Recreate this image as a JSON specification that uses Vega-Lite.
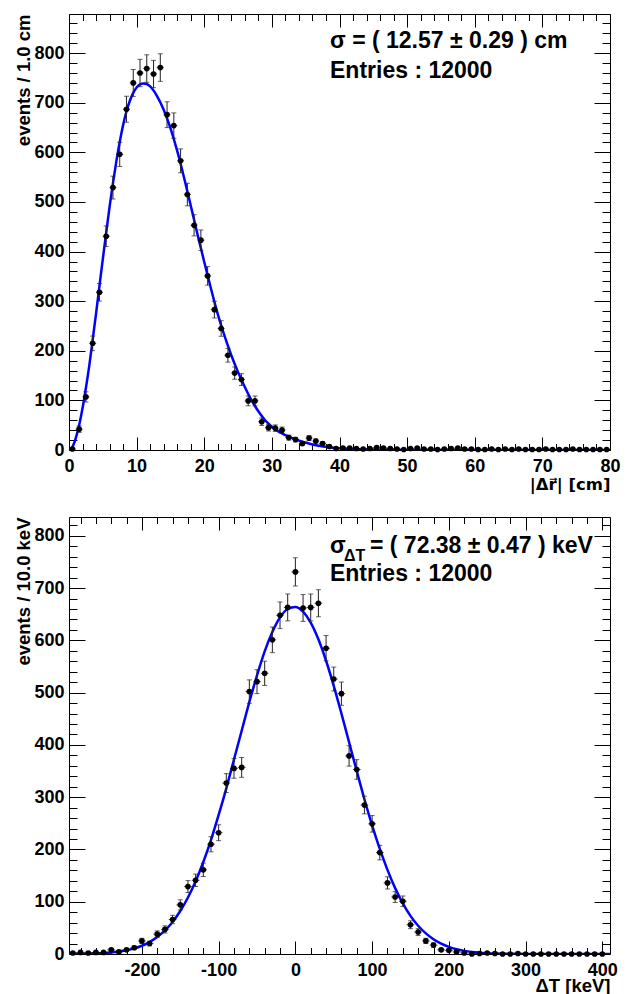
{
  "$schema": "https://vega.github.io/schema/vega-lite/v6.json",
  "padding": {"left": 13, "top": 13, "right": 5, "bottom": 5},
  "spacing": 67,
  "bounds": "flush",
  "config": {
    "font": "Liberation Sans",
    "view": {"stroke": "#000", "strokeWidth": 1},
    "axis": {"grid": false, "domain": false, "labelFont": "Liberation Sans", "labelFontWeight": "bold", "labelFontSize": 18, "labelColor": "#000", "titleFont": "Liberation Sans", "titleFontWeight": "bold", "titleFontSize": 18.5, "titleColor": "#000", "tickColor": "#000", "tickWidth": 1, "labelOverlap": false, "labelFlush": false, "labelBound": false}
  },
  "datasets": {
    "top": [
      {"x":0.5,"n":2,"e":1.4},{"x":1.5,"n":42,"e":6.5},{"x":2.5,"n":107,"e":10.3},{"x":3.5,"n":215,"e":14.7},{"x":4.5,"n":318,"e":17.8},{"x":5.5,"n":431,"e":20.8},{"x":6.5,"n":529,"e":23.0},{"x":7.5,"n":596,"e":24.4},{"x":8.5,"n":687,"e":26.2},{"x":9.5,"n":740,"e":27.2},
      {"x":10.5,"n":760,"e":27.6},{"x":11.5,"n":769,"e":27.7},{"x":12.5,"n":758,"e":27.5},{"x":13.5,"n":771,"e":27.8},{"x":14.5,"n":676,"e":26.0},{"x":15.5,"n":654,"e":25.6},{"x":16.5,"n":583,"e":24.1},{"x":17.5,"n":515,"e":22.7},{"x":18.5,"n":453,"e":21.3},{"x":19.5,"n":423,"e":20.6},
      {"x":20.5,"n":351,"e":18.7},{"x":21.5,"n":283,"e":16.8},{"x":22.5,"n":245,"e":15.7},{"x":23.5,"n":191,"e":13.8},{"x":24.5,"n":155,"e":12.4},{"x":25.5,"n":142,"e":11.9},{"x":26.5,"n":99,"e":9.9},{"x":27.5,"n":99,"e":9.9},{"x":28.5,"n":57,"e":7.5},{"x":29.5,"n":45,"e":6.7},
      {"x":30.5,"n":44,"e":6.6},{"x":31.5,"n":40,"e":6.3},{"x":32.5,"n":25,"e":5.0},{"x":33.5,"n":21,"e":4.6},{"x":34.5,"n":13,"e":3.6},{"x":35.5,"n":24,"e":4.9},{"x":36.5,"n":18,"e":4.2},{"x":37.5,"n":13,"e":3.6},{"x":38.5,"n":7,"e":2.6},{"x":39.5,"n":3,"e":1.7},
      {"x":40.5,"n":4,"e":2},{"x":41.5,"n":4,"e":2},{"x":42.5,"n":3,"e":1.7},{"x":43.5,"n":2,"e":1.4},{"x":44.5,"n":3,"e":1.7},{"x":45.5,"n":5,"e":2.2},{"x":46.5,"n":4,"e":2},{"x":47.5,"n":3,"e":1.7},{"x":48.5,"n":2,"e":1.4},{"x":49.5,"n":1,"e":1},
      {"x":50.5,"n":3,"e":1.7},{"x":51.5,"n":4,"e":2},{"x":52.5,"n":2,"e":1.4},{"x":53.5,"n":2,"e":1.4},{"x":54.5,"n":1,"e":1},{"x":55.5,"n":2,"e":1.4},{"x":56.5,"n":3,"e":1.7},{"x":57.5,"n":4,"e":2},{"x":58.5,"n":2,"e":1.4},{"x":59.5,"n":2,"e":1.4},
      {"x":60.5,"n":1,"e":1},{"x":61.5,"n":1,"e":1},{"x":62.5,"n":2,"e":1.4},{"x":63.5,"n":1,"e":1},{"x":64.5,"n":2,"e":1.4},{"x":65.5,"n":1,"e":1},{"x":66.5,"n":2,"e":1.4},{"x":67.5,"n":1,"e":1},{"x":68.5,"n":1,"e":1},{"x":69.5,"n":1,"e":1},
      {"x":70.5,"n":2,"e":1.4},{"x":71.5,"n":1,"e":1},{"x":72.5,"n":1,"e":1},{"x":73.5,"n":1,"e":1},{"x":74.5,"n":2,"e":1.4},{"x":75.5,"n":1,"e":1},{"x":76.5,"n":1,"e":1},{"x":77.5,"n":1,"e":1},{"x":78.5,"n":1,"e":1},{"x":79.5,"n":1,"e":1}
    ],
    "topfit": [
      {"x":0,"f":0},{"x":0.5,"f":6},{"x":1,"f":24},{"x":1.5,"f":50},{"x":2,"f":84},{"x":2.5,"f":125},{"x":3,"f":170},{"x":3.5,"f":222},{"x":4,"f":275},{"x":4.5,"f":330},{"x":5,"f":385},{"x":5.5,"f":438},{"x":6,"f":490},{"x":6.5,"f":538},{"x":7,"f":582},{"x":7.5,"f":621},{"x":8,"f":655},{"x":8.5,"f":683},{"x":9,"f":704},{"x":9.5,"f":720},{"x":10,"f":731},{"x":10.5,"f":737},{"x":11,"f":739},{"x":11.5,"f":738},{"x":12,"f":733},{"x":13,"f":714},{"x":14,"f":686},{"x":15,"f":649},{"x":16,"f":603},{"x":17,"f":550},{"x":18,"f":493},{"x":19,"f":435},{"x":20,"f":379},{"x":21,"f":325},{"x":22,"f":274},{"x":23,"f":230},{"x":24,"f":191},{"x":25,"f":157},{"x":26,"f":127},{"x":27,"f":100},{"x":28,"f":78},{"x":29,"f":60},{"x":30,"f":47},{"x":31,"f":37},{"x":32,"f":30},{"x":33,"f":24},{"x":34,"f":19},{"x":35,"f":15},{"x":36,"f":11},{"x":37,"f":8.5},{"x":38,"f":6.3},{"x":39,"f":4.6},{"x":40,"f":3.4},{"x":42,"f":1.8},{"x":44,"f":1},{"x":47,"f":0.4},{"x":50,"f":0.2},{"x":55,"f":0},{"x":80,"f":0}
    ],
    "bot": [
      {"x":-290,"n":2,"e":1.4},{"x":-280,"n":3,"e":1.7},{"x":-270,"n":2,"e":1.4},{"x":-260,"n":3,"e":1.7},{"x":-250,"n":3,"e":1.7},{"x":-240,"n":8,"e":2.8},{"x":-230,"n":4,"e":2},{"x":-220,"n":8,"e":2.8},{"x":-210,"n":12,"e":3.5},{"x":-200,"n":25,"e":5},
      {"x":-190,"n":20,"e":4.5},{"x":-180,"n":38,"e":6.2},{"x":-170,"n":47,"e":6.9},{"x":-160,"n":66,"e":8.1},{"x":-150,"n":94,"e":9.7},{"x":-140,"n":129,"e":11.4},{"x":-130,"n":141,"e":11.9},{"x":-120,"n":161,"e":12.7},{"x":-110,"n":210,"e":14.5},{"x":-100,"n":232,"e":15.2},
      {"x":-90,"n":327,"e":18.1},{"x":-80,"n":355,"e":18.8},{"x":-70,"n":357,"e":18.9},{"x":-60,"n":502,"e":22.4},{"x":-50,"n":521,"e":22.8},{"x":-40,"n":537,"e":23.2},{"x":-30,"n":601,"e":24.5},{"x":-20,"n":648,"e":25.5},{"x":-10,"n":663,"e":25.7},{"x":0,"n":731,"e":27},
      {"x":10,"n":662,"e":25.7},{"x":20,"n":663,"e":25.7},{"x":30,"n":671,"e":25.9},{"x":40,"n":585,"e":24.2},{"x":50,"n":526,"e":22.9},{"x":60,"n":498,"e":22.3},{"x":70,"n":379,"e":19.5},{"x":80,"n":353,"e":18.8},{"x":90,"n":285,"e":16.9},{"x":100,"n":249,"e":15.8},
      {"x":110,"n":194,"e":13.9},{"x":120,"n":136,"e":11.7},{"x":130,"n":109,"e":10.4},{"x":140,"n":101,"e":10},{"x":150,"n":56,"e":7.5},{"x":160,"n":42,"e":6.5},{"x":170,"n":25,"e":5},{"x":180,"n":17,"e":4.1},{"x":190,"n":8,"e":2.8},{"x":200,"n":7,"e":2.6},
      {"x":210,"n":4,"e":2},{"x":220,"n":2,"e":1.4},{"x":230,"n":0,"e":0},{"x":240,"n":1,"e":1},{"x":250,"n":2,"e":1.4},{"x":260,"n":1,"e":1},{"x":270,"n":0,"e":0},{"x":280,"n":0,"e":0},{"x":290,"n":1,"e":1},{"x":300,"n":0,"e":0},
      {"x":310,"n":0,"e":0},{"x":320,"n":0,"e":0},{"x":330,"n":0,"e":0},{"x":340,"n":0,"e":0},{"x":350,"n":0,"e":0},{"x":360,"n":0,"e":0},{"x":370,"n":0,"e":0},{"x":380,"n":0,"e":0},{"x":390,"n":0,"e":0},{"x":400,"n":0,"e":0}
    ],
    "botfit": [
      {"x":-295,"f":0.2},{"x":-280,"f":0.4},{"x":-270,"f":0.7},{"x":-260,"f":1.2},{"x":-250,"f":1.9},{"x":-240,"f":3},{"x":-230,"f":4.7},{"x":-220,"f":7.1},{"x":-210,"f":10.7},{"x":-200,"f":15.8},{"x":-190,"f":22.8},{"x":-180,"f":32.3},{"x":-170,"f":45},{"x":-160,"f":61.4},{"x":-150,"f":82.2},{"x":-140,"f":108},{"x":-130,"f":139},{"x":-120,"f":176},{"x":-110,"f":218},{"x":-100,"f":266},{"x":-90,"f":317},{"x":-80,"f":372},{"x":-70,"f":427},{"x":-60,"f":482},{"x":-50,"f":533},{"x":-40,"f":579},{"x":-30,"f":616},{"x":-20,"f":644},{"x":-10,"f":660},{"x":0,"f":664},{"x":10,"f":655},{"x":20,"f":634},{"x":30,"f":602},{"x":40,"f":561},{"x":50,"f":513},{"x":60,"f":460},{"x":70,"f":405},{"x":80,"f":350},{"x":90,"f":296},{"x":100,"f":246},{"x":110,"f":201},{"x":120,"f":161},{"x":130,"f":126},{"x":140,"f":97},{"x":150,"f":73},{"x":160,"f":54},{"x":170,"f":39.5},{"x":180,"f":28.2},{"x":190,"f":19.7},{"x":200,"f":13.5},{"x":210,"f":9.1},{"x":220,"f":6},{"x":230,"f":3.9},{"x":240,"f":2.5},{"x":250,"f":1.6},{"x":260,"f":1},{"x":280,"f":0.3},{"x":300,"f":0.1},{"x":410,"f":0}
    ]
  },
  "vconcat": [
    {
      "width": 541,
      "height": 436,
      "resolve": {"axis": {"x": "independent", "y": "independent"}},
      "layer": [
        {
          "data": {"name": "topfit"},
          "mark": {"type": "line", "color": "#0000ff", "strokeWidth": 2.5, "interpolate": "monotone", "clip": true},
          "encoding": {
            "x": {"field": "x", "type": "quantitative", "scale": {"domain": [0, 80], "nice": false, "zero": false},
              "axis": {"orient": "bottom", "title": "|Δr⃗| [cm]", "titleFont": "DejaVu Sans", "titleFontSize": 16.5, "values": [0,10,20,30,40,50,60,70,80], "ticks": false, "labelPadding": 7, "labelExpr": "'' + datum.value", "titleAnchor": "end", "titleAlign": "right", "titleX": 541, "titleY": 39, "titleBaseline": "alphabetic"}},
            "y": {"field": "f", "type": "quantitative", "scale": {"domain": [0, 879], "nice": false, "zero": false},
              "axis": {"orient": "left", "title": "events / 1.0 cm", "values": [0,100,200,300,400,500,600,700,800], "ticks": false, "labelPadding": 5, "titleAngle": -90, "titleAnchor": "end", "titleAlign": "right", "titleX": -40, "titleY": 0, "titleBaseline": "alphabetic"}}
          }
        },
        {
          "data": {"name": "top"},
          "mark": {"type": "tick", "orient": "horizontal", "size": 7, "thickness": 1, "color": "#000"},
          "encoding": {
            "x": {"field": "x", "type": "quantitative", "scale": {"domain": [0, 80], "nice": false, "zero": false},
              "axis": {"orient": "bottom", "title": null, "labels": false, "values": [0,10,20,30,40,50,60,70,80], "tickSize": -13}},
            "y": {"field": "n", "type": "quantitative", "scale": {"domain": [0, 879], "nice": false, "zero": false},
              "axis": {"orient": "left", "title": null, "labels": false, "values": [0,100,200,300,400,500,600,700,800], "tickSize": -16}}
          }
        },
        {
          "data": {"name": "top"},
          "mark": {"type": "errorbar", "color": "#222", "thickness": 1, "ticks": {"size": 5}},
          "encoding": {
            "x": {"field": "x", "type": "quantitative", "scale": {"domain": [0, 80], "nice": false, "zero": false}, "axis": null},
            "y": {"field": "n", "type": "quantitative", "scale": {"domain": [0, 879], "nice": false, "zero": false}, "axis": null},
            "yError": {"field": "e"}
          }
        },
        {
          "data": {"name": "top"},
          "mark": {"type": "point", "filled": true, "shape": "circle", "size": 32, "color": "#000", "opacity": 1},
          "encoding": {
            "x": {"field": "x", "type": "quantitative", "scale": {"domain": [0, 80], "nice": false, "zero": false},
              "axis": {"orient": "bottom", "title": null, "labels": false, "values": [2,4,6,8,12,14,16,18,22,24,26,28,32,34,36,38,42,44,46,48,52,54,56,58,62,64,66,68,72,74,76,78], "tickSize": -6.5}},
            "y": {"field": "n", "type": "quantitative", "scale": {"domain": [0, 879], "nice": false, "zero": false},
              "axis": {"orient": "left", "title": null, "labels": false, "values": [20,40,60,80,120,140,160,180,220,240,260,280,320,340,360,380,420,440,460,480,520,540,560,580,620,640,660,680,720,740,760,780,820,840,860], "tickSize": -8}}
          }
        },
        {
          "data": {"values": [{}]},
          "mark": {"type": "text", "align": "left", "baseline": "alphabetic", "fontSize": 23, "fontWeight": "bold", "font": "Liberation Sans", "color": "#000", "text": "σ = ( 12.57 ± 0.29 ) cm"},
          "encoding": {
            "x": {"datum": 38.6, "type": "quantitative", "scale": {"domain": [0, 80], "nice": false, "zero": false},
              "axis": {"orient": "top", "title": null, "labels": false, "values": [0,10,20,30,40,50,60,70,80], "tickSize": -13}},
            "y": {"datum": 810, "type": "quantitative", "scale": {"domain": [0, 879], "nice": false, "zero": false},
              "axis": {"orient": "right", "title": null, "labels": false, "values": [0,100,200,300,400,500,600,700,800], "tickSize": -16}}
          }
        },
        {
          "data": {"values": [{}]},
          "mark": {"type": "text", "align": "left", "baseline": "alphabetic", "fontSize": 23, "fontWeight": "bold", "font": "Liberation Sans", "color": "#000", "text": "Entries : 12000"},
          "encoding": {
            "x": {"datum": 38.6, "type": "quantitative", "scale": {"domain": [0, 80], "nice": false, "zero": false},
              "axis": {"orient": "top", "title": null, "labels": false, "values": [2,4,6,8,12,14,16,18,22,24,26,28,32,34,36,38,42,44,46,48,52,54,56,58,62,64,66,68,72,74,76,78], "tickSize": -6.5}},
            "y": {"datum": 750, "type": "quantitative", "scale": {"domain": [0, 879], "nice": false, "zero": false},
              "axis": {"orient": "right", "title": null, "labels": false, "values": [20,40,60,80,120,140,160,180,220,240,260,280,320,340,360,380,420,440,460,480,520,540,560,580,620,640,660,680,720,740,760,780,820,840,860], "tickSize": -8}}
          }
        }
      ]
    },
    {
      "width": 541,
      "height": 437,
      "resolve": {"axis": {"x": "independent", "y": "independent"}},
      "layer": [
        {
          "data": {"name": "botfit"},
          "mark": {"type": "line", "color": "#0000ff", "strokeWidth": 2.5, "interpolate": "monotone", "clip": true},
          "encoding": {
            "x": {"field": "x", "type": "quantitative", "scale": {"domain": [-295, 410], "nice": false, "zero": false},
              "axis": {"orient": "bottom", "title": "ΔT [keV]", "values": [-200,-100,0,100,200,300,400], "ticks": false, "labelPadding": 7, "labelExpr": "'' + datum.value", "titleAnchor": "end", "titleAlign": "right", "titleX": 541, "titleY": 37, "titleBaseline": "alphabetic"}},
            "y": {"field": "f", "type": "quantitative", "scale": {"domain": [0, 836], "nice": false, "zero": false},
              "axis": {"orient": "left", "title": "events / 10.0 keV", "values": [0,100,200,300,400,500,600,700,800], "ticks": false, "labelPadding": 5, "titleAngle": -90, "titleAnchor": "end", "titleAlign": "right", "titleX": -40, "titleY": 0, "titleBaseline": "alphabetic"}}
          }
        },
        {
          "data": {"name": "bot"},
          "mark": {"type": "tick", "orient": "horizontal", "size": 7.7, "thickness": 1, "color": "#000"},
          "encoding": {
            "x": {"field": "x", "type": "quantitative", "scale": {"domain": [-295, 410], "nice": false, "zero": false},
              "axis": {"orient": "bottom", "title": null, "labels": false, "values": [-200,-100,0,100,200,300,400], "tickSize": -13}},
            "y": {"field": "n", "type": "quantitative", "scale": {"domain": [0, 836], "nice": false, "zero": false},
              "axis": {"orient": "left", "title": null, "labels": false, "values": [0,100,200,300,400,500,600,700,800], "tickSize": -16}}
          }
        },
        {
          "data": {"name": "bot"},
          "mark": {"type": "errorbar", "color": "#222", "thickness": 1, "ticks": {"size": 5}},
          "encoding": {
            "x": {"field": "x", "type": "quantitative", "scale": {"domain": [-295, 410], "nice": false, "zero": false}, "axis": null},
            "y": {"field": "n", "type": "quantitative", "scale": {"domain": [0, 836], "nice": false, "zero": false}, "axis": null},
            "yError": {"field": "e"}
          }
        },
        {
          "data": {"name": "bot"},
          "mark": {"type": "point", "filled": true, "shape": "circle", "size": 32, "color": "#000", "opacity": 1},
          "encoding": {
            "x": {"field": "x", "type": "quantitative", "scale": {"domain": [-295, 410], "nice": false, "zero": false},
              "axis": {"orient": "bottom", "title": null, "labels": false, "values": [-280,-260,-240,-220,-180,-160,-140,-120,-80,-60,-40,-20,20,40,60,80,120,140,160,180,220,240,260,280,320,340,360,380], "tickSize": -6.5}},
            "y": {"field": "n", "type": "quantitative", "scale": {"domain": [0, 836], "nice": false, "zero": false},
              "axis": {"orient": "left", "title": null, "labels": false, "values": [20,40,60,80,120,140,160,180,220,240,260,280,320,340,360,380,420,440,460,480,520,540,560,580,620,640,660,680,720,740,760,780,820], "tickSize": -8}}
          }
        },
        {
          "data": {"values": [{}]},
          "mark": {"type": "text", "align": "left", "baseline": "alphabetic", "fontSize": 23, "fontWeight": "bold", "font": "Liberation Sans", "color": "#000", "text": "σ"},
          "encoding": {
            "x": {"datum": 45.1, "type": "quantitative", "scale": {"domain": [-295, 410], "nice": false, "zero": false},
              "axis": {"orient": "top", "title": null, "labels": false, "values": [-200,-100,0,100,200,300,400], "tickSize": -13}},
            "y": {"datum": 767, "type": "quantitative", "scale": {"domain": [0, 836], "nice": false, "zero": false},
              "axis": {"orient": "right", "title": null, "labels": false, "values": [0,100,200,300,400,500,600,700,800], "tickSize": -16}}
          }
        },
        {
          "data": {"values": [{}]},
          "mark": {"type": "text", "align": "left", "baseline": "alphabetic", "fontSize": 23, "fontWeight": "bold", "font": "Liberation Sans", "color": "#000", "text": "Entries : 12000"},
          "encoding": {
            "x": {"datum": 45.1, "type": "quantitative", "scale": {"domain": [-295, 410], "nice": false, "zero": false},
              "axis": {"orient": "top", "title": null, "labels": false, "values": [-280,-260,-240,-220,-180,-160,-140,-120,-80,-60,-40,-20,20,40,60,80,120,140,160,180,220,240,260,280,320,340,360,380], "tickSize": -6.5}},
            "y": {"datum": 713.6, "type": "quantitative", "scale": {"domain": [0, 836], "nice": false, "zero": false},
              "axis": {"orient": "right", "title": null, "labels": false, "values": [20,40,60,80,120,140,160,180,220,240,260,280,320,340,360,380,420,440,460,480,520,540,560,580,620,640,660,680,720,740,760,780,820], "tickSize": -8}}
          }
        },
        {
          "data": {"values": [{}]},
          "mark": {"type": "text", "align": "left", "baseline": "alphabetic", "fontSize": 16, "fontWeight": "bold", "font": "Liberation Sans", "color": "#000", "text": "ΔT"},
          "encoding": {
            "x": {"datum": 63.5, "type": "quantitative", "scale": {"domain": [-295, 410], "nice": false, "zero": false}, "axis": null},
            "y": {"datum": 752, "type": "quantitative", "scale": {"domain": [0, 836], "nice": false, "zero": false}, "axis": null}
          }
        },
        {
          "data": {"values": [{}]},
          "mark": {"type": "text", "align": "left", "baseline": "alphabetic", "fontSize": 23, "fontWeight": "bold", "font": "Liberation Sans", "color": "#000", "text": "= ( 72.38 ± 0.47 ) keV"},
          "encoding": {
            "x": {"datum": 97.2, "type": "quantitative", "scale": {"domain": [-295, 410], "nice": false, "zero": false}, "axis": null},
            "y": {"datum": 767, "type": "quantitative", "scale": {"domain": [0, 836], "nice": false, "zero": false}, "axis": null}
          }
        }
      ]
    }
  ]
}
